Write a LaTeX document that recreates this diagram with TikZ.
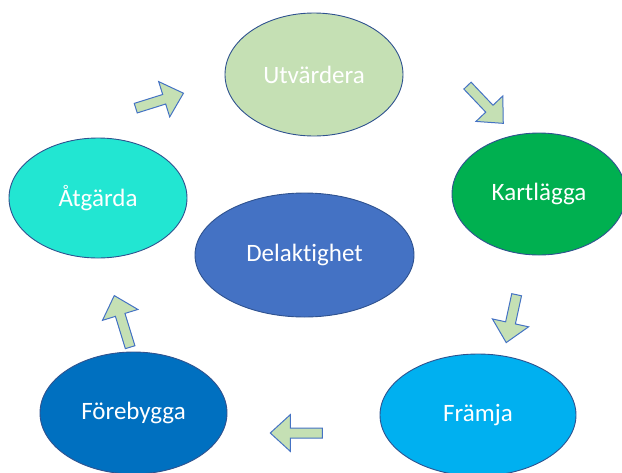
\documentclass[tikz,border=0pt]{standalone}
\usepackage{fontspec}
\setmainfont{Carlito}[Ligatures={NoCommon}]
\usetikzlibrary{shapes.geometric, shapes.arrows}

\definecolor{edgeblue}{HTML}{2F528F}
\definecolor{arrowblue}{HTML}{4472C4}
\definecolor{palegreen}{HTML}{C5E0B4}
\definecolor{grassgreen}{HTML}{00B050}
\definecolor{turquoise}{HTML}{22E6D2}
\definecolor{midblue}{HTML}{4472C4}
\definecolor{deepblue}{HTML}{0070C0}
\definecolor{skyblue}{HTML}{00B0F0}

\begin{document}
\begin{tikzpicture}[x=1pt, y=-1pt,
        phase/.style={ellipse, draw=edgeblue, line width=0.9pt, text=white,
            font=\fontsize{25}{29}\selectfont, inner sep=0pt},
        turn/.style={single arrow, draw=arrowblue, fill=palegreen, line width=1pt,
            minimum height=52pt, inner xsep=0pt, inner ysep=4.5pt,
            single arrow head extend=13.5pt, single arrow tip angle=85}]
            \useasboundingbox (0,0) rectangle (622,472);
            \clip (0,0) rectangle (622,472);
            % the cycle
            \node[phase, fill=palegreen, minimum width=178pt, minimum height=123pt] (utvardera) at (314,74.5) {Utvärdera};
            \node[phase, fill=grassgreen, minimum width=174pt, minimum height=122pt] (kartlagga) at (539,194) {Kartlägga};
            \node[phase, fill=skyblue, minimum width=196pt, minimum height=122pt] (framja) at (478,415) {Främja};
            \node[phase, fill=deepblue, minimum width=187pt, minimum height=122pt] (forebygga) at (133.5,413) {Förebygga};
            \node[phase, fill=turquoise, minimum width=178pt, minimum height=120pt] (atgarda) at (98,198) {Åtgärda};
            \node[phase, fill=midblue, minimum width=219pt, minimum height=124pt] (delaktighet) at (304.5,255) {Delaktighet};
            % arrows between the steps
            \node[turn, rotate=17.4, minimum height=50pt] (pil1) at (157,101.5) {};
            \node[turn, rotate=-46.5] (pil2) at (483.5,102.5) {};
            \node[turn, rotate=-102.3, minimum height=49pt] (pil3) at (512,316) {};
            \node[turn, rotate=180] (pil4) at (299,433) {};
            \node[turn, rotate=107.1, minimum height=54pt] (pil5) at (123,324) {};
        \end{tikzpicture}
\end{document}
